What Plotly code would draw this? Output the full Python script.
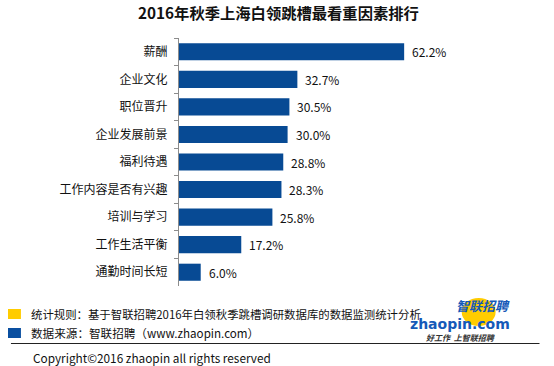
import plotly.graph_objects as go

categories = ["薪酬", "企业文化", "职位晋升", "企业发展前景", "福利待遇",
              "工作内容是否有兴趣", "培训与学习", "工作生活平衡", "通勤时间长短"]
values = [62.2, 32.7, 30.5, 30.0, 28.8, 28.3, 25.8, 17.2, 6.0]
title_text = "2016年秋季上海白领跳槽最看重因素排行"
note_rule = "统计规则：基于智联招聘2016年白领秋季跳槽调研数据库的数据监测统计分析"
note_src = "数据来源：智联招聘（www.zhaopin.com）"
copyright_text = "Copyright©2016 zhaopin all rights reserved"

BLUE = "#074A94"
YELLOW = "#FFCC00"
FONT = "Noto Sans CJK SC"

W, H = 554, 366
PL, PT, PR, PB = 178.5, 38.0, 541.5, 286.0   # plot area in page pixels
PW, PH = PR - PL, PB - PT

fig = go.Figure()
fig.add_trace(go.Bar(
    y=categories, x=values, orientation="h",
    marker=dict(color=BLUE, line=dict(width=0)),
    width=0.62,
    hoverinfo="skip",
))

for c, v in zip(categories, values):
    fig.add_annotation(x=v, y=c, xref="x", yref="y", text=f"{v:.1f}%",
                       showarrow=False, xanchor="left", xshift=6,
                       font=dict(family=FONT, size=12, color="#111"))

fig.update_layout(
    width=W, height=H,
    margin=dict(l=PL, r=W - PR, t=PT, b=H - PB),
    paper_bgcolor="white", plot_bgcolor="white",
    showlegend=False,
    font=dict(family=FONT, size=12, color="#111"),
    xaxis=dict(range=[0, 100], visible=False, fixedrange=True),
    yaxis=dict(autorange="reversed", type="category",
               showline=True, linecolor="#8c8c8c", linewidth=1,
               ticks="outside", tickson="boundaries", ticklen=4,
               tickcolor="#8c8c8c", showgrid=False, zeroline=False,
               ticklabelstandoff=8, fixedrange=True,
               tickfont=dict(family=FONT, size=12, color="#111")),
)

def px_x(px):
    return (px - PL) / PW

def px_y(py):
    return (PB - py) / PH

shapes = [
    dict(type="rect", xref="paper", yref="paper",
         x0=px_x(7), x1=px_x(20), y0=px_y(319), y1=px_y(309),
         fillcolor=YELLOW, line=dict(width=0)),
    dict(type="rect", xref="paper", yref="paper",
         x0=px_x(7), x1=px_x(20), y0=px_y(338), y1=px_y(328),
         fillcolor="#0A4FA0", line=dict(width=0)),
    dict(type="line", xref="paper", yref="paper",
         x0=px_x(10), x1=px_x(540), y0=px_y(343.5), y1=px_y(343.5),
         line=dict(color="#222", width=1)),
    dict(type="circle", xref="paper", yref="paper",
         x0=px_x(462), x1=px_x(496), y0=px_y(326), y1=px_y(298),
         fillcolor=YELLOW, line=dict(width=0), layer="below"),
]
fig.update_layout(shapes=shapes)

anns = [
    dict(text=f"<b>{title_text}</b>", x=px_x(278), y=px_y(12), xanchor="center",
         yanchor="middle", font=dict(family=FONT, size=15.3, color="#111")),
    dict(text=note_rule, x=px_x(28), y=px_y(314), xanchor="left", yanchor="middle",
         font=dict(family=FONT, size=11.4, color="#111")),
    dict(text=note_src, x=px_x(28), y=px_y(333), xanchor="left", yanchor="middle",
         font=dict(family=FONT, size=11.6, color="#111")),
    dict(text=copyright_text, x=px_x(30), y=px_y(357), xanchor="left", yanchor="middle",
         font=dict(family=FONT, size=11.8, color="#111")),
    dict(text="<b><i>智联招聘</i></b>", x=px_x(511), y=px_y(305), xanchor="right",
         yanchor="middle", borderpad=0, font=dict(family=FONT, size=13, color="#1559B8")),
    dict(text="<b>zhaopin.com</b>", x=px_x(511), y=px_y(324), xanchor="right",
         yanchor="middle", borderpad=0, font=dict(family="DejaVu Sans", size=14, color="#1559B8")),
    dict(text="<b><i>好工作  上智联招聘</i></b>", x=px_x(496), y=px_y(337), xanchor="right",
         yanchor="middle", borderpad=0, font=dict(family=FONT, size=8, color="#333")),
]
for a in anns:
    a.update(xref="paper", yref="paper", showarrow=False)
    fig.add_annotation(**a)

fig.write_html("out.html",
               config={"displayModeBar": False, "staticPlot": True},
               post_script="document.body.style.margin='0px';document.body.style.overflow='hidden';")
